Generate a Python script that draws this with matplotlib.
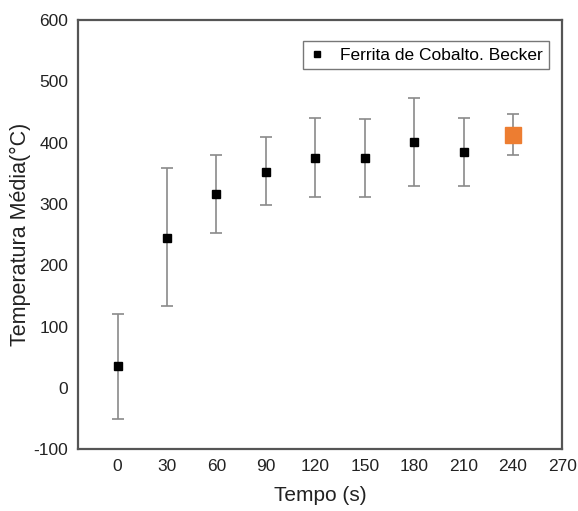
import numpy as np
import matplotlib
matplotlib.use("Agg")
from matplotlib import pyplot as plt

plt.rcParams["font.family"] = ["Liberation Sans", "DejaVu Sans"]
plt.rcParams["axes.unicode_minus"] = False

# tempo (s) and mean temperature with error bar limits
tempo = [0, 30, 60, 90, 120, 150, 180, 210]
temp_media = [35, 244, 316, 352, 375, 375, 401, 384]
temp_sup = [120, 358, 380, 409, 440, 438, 473, 440]
temp_inf = [-50, 133, 252, 298, 311, 311, 329, 329]

tempo_destaque = [240]
temp_destaque = [412]
destaque_sup = [447]
destaque_inf = [380]

x_ticks = [0, 30, 60, 90, 120, 150, 180, 210, 240, 270]
y_ticks = [-100, 0, 100, 200, 300, 400, 500, 600]


def err(mid, lo, hi):
    mid = np.array(mid)
    return [mid - np.array(lo), np.array(hi) - mid]


fig = plt.figure(figsize=(5.78, 5.11), dpi=100)
ax = fig.add_axes([0.135, 0.121, 0.838, 0.840])

ax.errorbar(tempo, temp_media, yerr=err(temp_media, temp_inf, temp_sup),
            fmt="none", ecolor="#8a8a8a", elinewidth=1.2, capsize=4,
            capthick=1.2, zorder=2)
ax.plot(tempo, temp_media, "s", color="black", markersize=6,
        label="Ferrita de Cobalto. Becker", zorder=3)

ax.errorbar(tempo_destaque, temp_destaque,
            yerr=err(temp_destaque, destaque_inf, destaque_sup),
            fmt="none", ecolor="#8a8a8a", elinewidth=1.2, capsize=4,
            capthick=1.2, zorder=2)
ax.plot(tempo_destaque, temp_destaque, "s", color="#ED7D31", markersize=11,
        zorder=3)

ax.set_xlim(-24, 270)
ax.set_ylim(-100, 600)
ax.set_xticks(x_ticks)
ax.set_yticks(y_ticks)
ax.tick_params(length=0, labelsize=12.5, labelcolor="#222222", pad=7)

for s in ax.spines.values():
    s.set_color("#555555")
    s.set_linewidth(1.6)

ax.set_xlabel("Tempo (s)", fontsize=15, color="#222222", labelpad=9)
ax.set_ylabel("Temperatura Média(°C)", fontsize=15.5, color="#222222", labelpad=2)

leg = ax.legend(loc="upper right", bbox_to_anchor=(0.99, 0.97), fontsize=12.5,
                fancybox=False, edgecolor="#555555", handletextpad=0.8,
                borderpad=0.35, handlelength=1.0)
leg.get_frame().set_linewidth(1.0)
for h in leg.legend_handles:
    h.set_markersize(5)

fig.savefig("out.png", dpi=100)
